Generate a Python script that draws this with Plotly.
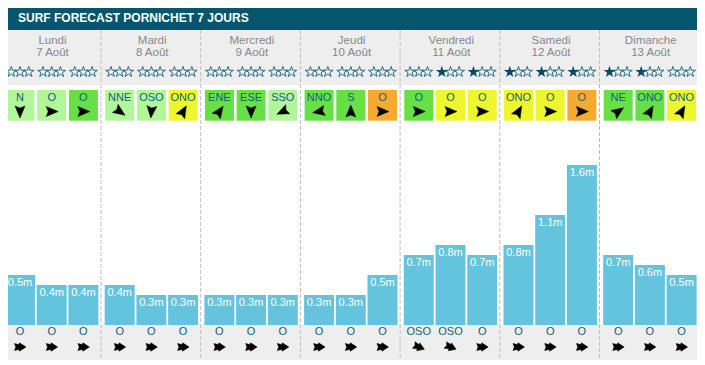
import math
import plotly.graph_objects as go

# ---------------- data ----------------
days = ["Lundi", "Mardi", "Mercredi", "Jeudi", "Vendredi", "Samedi", "Dimanche"]
dates = ["7 Août", "8 Août", "9 Août", "10 Août", "11 Août", "12 Août", "13 Août"]
wave_heights = [0.5, 0.4, 0.4,
                0.4, 0.3, 0.3,
                0.3, 0.3, 0.3,
                0.3, 0.3, 0.5,
                0.7, 0.8, 0.7,
                0.8, 1.1, 1.6,
                0.7, 0.6, 0.5]
wind_dirs = ["N", "O", "O",
             "NNE", "OSO", "ONO",
             "ENE", "ESE", "SSO",
             "NNO", "S", "O",
             "O", "O", "O",
             "ONO", "O", "O",
             "NE", "ONO", "ONO"]
wind_force = [0, 0, 1,
              0, 0, 2,
              1, 1, 0,
              1, 1, 3,
              1, 2, 2,
              2, 2, 3,
              1, 1, 2]
star_ratings = [0, 0, 0,
                0, 0, 0,
                0, 0, 0,
                0, 0, 0,
                0, 1, 1,
                1, 1, 1,
                1, 1, 0]
swell_dirs = ["O", "O", "O",
              "O", "O", "O",
              "O", "O", "O",
              "O", "O", "O",
              "OSO", "OSO", "O",
              "O", "O", "O",
              "O", "O", "O"]
title = "SURF FORECAST PORNICHET 7 JOURS"

# ---------------- styling / layout constants ----------------
W, H = 705, 365
OFF = 8  # page body margin
X0, DAYW, SLOTW, BARW = 5.0, 99.7, 31.7, 30.0
BASE_PX, PX_PER_M = 325.0, 100.0
FORCE_COLORS = ["#b2f69c", "#66e045", "#eef62e", "#f6ab30"]
BAR_COLOR = "#64c4de"
TEAL = "#03566c"
TXT_TEAL = "#12617a"
GRAY_BG = "#eeeeee"
FONT = "Liberation Sans, Arial, sans-serif"
# screen direction the glyph points to (degrees clockwise from up)
WIND_ANGLE = {"N": 180, "O": 90, "NNE": 125, "OSO": 185, "ONO": 30, "ENE": 35,
              "ESE": 180, "SSO": 245, "NNO": 260, "S": 0, "NE": 55}
SWELL_ANGLE = {"O": 90, "OSO": 112}


def py(px):
    """convert a pixel row to the y data scale (metres above bar base)"""
    return (BASE_PX - px) / PX_PER_M


def arrow_polys(xs, ys_px, angles, shape):
    """build arrowhead polygons (in data units) for a fill='toself' trace"""
    px_out, py_out = [], []
    for cx, cy, a in zip(xs, ys_px, angles):
        r = math.radians(a)
        ux, uy = math.sin(r), -math.cos(r)      # forward (screen)
        vx, vy = -uy, ux                         # side (screen)
        for fx, sx in shape + [shape[0]]:
            X = cx + fx * ux + sx * vx
            Y = cy + fx * uy + sx * vy
            px_out.append(X)
            py_out.append(py(Y))
        px_out.append(None)
        py_out.append(None)
    return px_out, py_out


WIND_SHAPE = [(6.5, 0), (-5.5, 5), (-3.5, 0), (-5.5, -5)]
SWELL_SHAPE = [(6, 0), (-0.5, 4.2), (-1, 2.4), (-5.5, 3.5), (-4.2, 0), (-5.5, -3.5), (-1, -2.4), (-0.5, -4.2)]

n = len(wave_heights)
slot_x = [X0 + (i // 3) * DAYW + (i % 3) * SLOTW + BARW / 2 for i in range(n)]
day_x = [X0 + d * DAYW + 47.5 for d in range(len(days))]

fig = go.Figure()

# background bands
shapes = [
    dict(type="rect", x0=X0, x1=698, y0=py(6), y1=py(30), fillcolor=TEAL, line_width=0, layer="below"),
    dict(type="rect", x0=X0, x1=698, y0=py(30), y1=py(85), fillcolor=GRAY_BG, line_width=0, layer="below"),
    dict(type="rect", x0=X0, x1=698, y0=py(325), y1=py(360), fillcolor=GRAY_BG, line_width=0, layer="below"),
]

# dashed day separators
sep_x, sep_y = [], []
for d in range(1, len(days)):
    xs = X0 + d * DAYW - 3.7
    sep_x += [xs, xs, None]
    sep_y += [py(30), py(360), None]
fig.add_trace(go.Scatter(x=sep_x, y=sep_y, mode="lines",
                         line=dict(color="#bdbdbd", width=1, dash="4px,2px"),
                         hoverinfo="skip"))

# wave height bars
fig.add_trace(go.Bar(x=slot_x, y=wave_heights, width=BARW, marker_color=BAR_COLOR,
                     marker_line_width=0, hoverinfo="skip"))
fig.add_trace(go.Scatter(x=slot_x, y=[h - 0.085 for h in wave_heights], mode="text",
                         text=[f"{h}m" for h in wave_heights],
                         textfont=dict(color="white", size=11, family=FONT), hoverinfo="skip"))

# wind boxes
box_bottom, box_top = py(120.7), py(90)
fig.add_trace(go.Bar(x=slot_x, y=[box_top - box_bottom] * n, base=[box_bottom] * n, width=29,
                     marker_color=[FORCE_COLORS[f] for f in wind_force],
                     marker_line_width=0, hoverinfo="skip"))
fig.add_trace(go.Scatter(x=slot_x, y=[py(98.5)] * n, mode="text", text=wind_dirs,
                         textfont=dict(color=TXT_TEAL, size=11, family=FONT), hoverinfo="skip"))
wx, wy = arrow_polys(slot_x, [111.5] * n, [WIND_ANGLE[w] for w in wind_dirs], WIND_SHAPE)
fig.add_trace(go.Scatter(x=wx, y=wy, mode="lines", fill="toself", fillcolor="black",
                         line=dict(width=0.5, color="black"), hoverinfo="skip"))

# stars
sx_f, sy_f, sx_o, sy_o = [], [], [], []
for i in range(n):
    for s, off in enumerate((-8.7, 0, 8.7)):
        if s < star_ratings[i]:
            sx_f.append(slot_x[i] + off); sy_f.append(py(72))
        else:
            sx_o.append(slot_x[i] + off); sy_o.append(py(72))
fig.add_trace(go.Scatter(x=sx_o, y=sy_o, mode="markers",
                         marker=dict(symbol="star-open", size=8, color="#2a6f86", line=dict(width=1)),
                         hoverinfo="skip"))
fig.add_trace(go.Scatter(x=sx_f, y=sy_f, mode="markers",
                         marker=dict(symbol="star", size=9, color="#0b4a62", line=dict(width=0)),
                         hoverinfo="skip"))

# day / date labels
fig.add_trace(go.Scatter(x=day_x, y=[py(41)] * len(days), mode="text", text=days,
                         textfont=dict(color="#888888", size=11.5, family=FONT), hoverinfo="skip"))
fig.add_trace(go.Scatter(x=day_x, y=[py(53)] * len(days), mode="text", text=dates,
                         textfont=dict(color="#888888", size=11.5, family=FONT), hoverinfo="skip"))

# swell direction
fig.add_trace(go.Scatter(x=slot_x, y=[py(332)] * n, mode="text", text=swell_dirs,
                         textfont=dict(color=TXT_TEAL, size=11, family=FONT), hoverinfo="skip"))
sx, sy = arrow_polys(slot_x, [347] * n, [SWELL_ANGLE[s] for s in swell_dirs], SWELL_SHAPE)
fig.add_trace(go.Scatter(x=sx, y=sy, mode="lines", fill="toself", fillcolor="black",
                         line=dict(width=0.5, color="black"), hoverinfo="skip"))

fig.update_layout(
    width=W, height=H,
    margin=dict(l=0, r=0, t=0, b=0),
    paper_bgcolor="white", plot_bgcolor="white",
    showlegend=False, barmode="overlay",
    shapes=shapes,
    xaxis=dict(range=[OFF, W + OFF], visible=False, fixedrange=True),
    yaxis=dict(range=[py(H + OFF), py(OFF)], visible=False, fixedrange=True),
    annotations=[dict(x=16, y=py(18), xref="x", yref="y", text="<b>" + title + "</b>",
                      showarrow=False, xanchor="left", yanchor="middle",
                      font=dict(color="white", size=12, family=FONT))],
)

fig.write_html("out.html")
